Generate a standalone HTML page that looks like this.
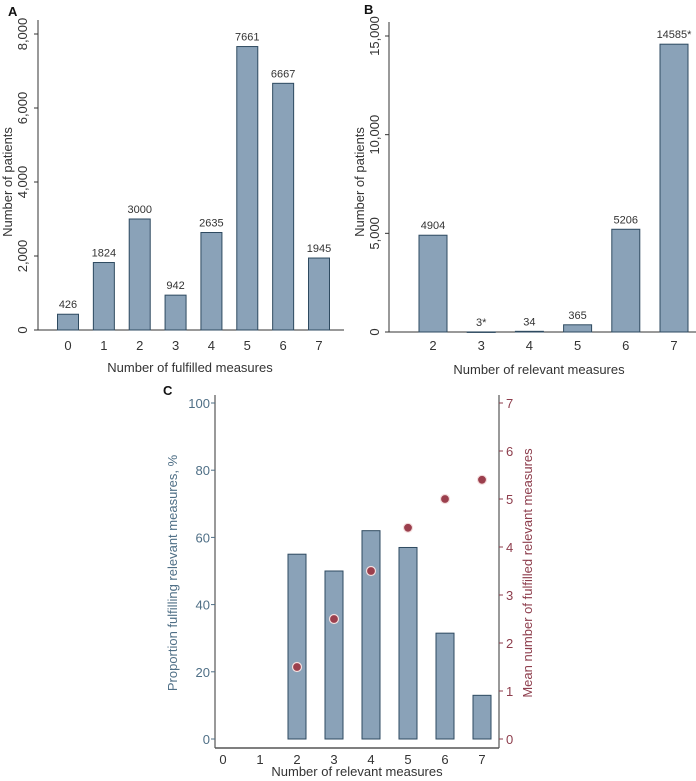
<!DOCTYPE html>
<html><head><meta charset="utf-8"><style>
body{margin:0;background:#fff;}
svg text{font-family:"Liberation Sans",sans-serif;}
</style></head><body>
<svg id="svg" width="696" height="776" viewBox="0 0 696 776" xmlns="http://www.w3.org/2000/svg"></svg>
<script>
const catsA=[0,1,2,3,4,5,6,7];
const valsA=[426,1824,3000,942,2635,7661,6667,1945];
const labelsA=["426","1824","3000","942","2635","7661","6667","1945"];
const ticksA=[0,2000,4000,6000,8000];
const catsB=[2,3,4,5,6,7];
const valsB=[4904,3,34,365,5206,14585];
const labelsB=["4904","3*","34","365","5206","14585*"];
const ticksB=[0,5000,10000,15000];
const catsC=[0,1,2,3,4,5,6,7];
const propC=[null,null,55,50,62,57,31.5,13];
const meanCats=[2,3,4,5,6,7];
const meanC=[1.5,2.5,3.5,4.4,5.0,5.4];
const ticksCL=[0,20,40,60,80,100];
const ticksCR=[0,1,2,3,4,5,6,7];

const svg=document.getElementById('svg');
const NS='http://www.w3.org/2000/svg';
function mk(tag,attrs,name,parent){const e=document.createElementNS(NS,tag);for(const k in attrs)e.setAttribute(k,attrs[k]);


(parent||svg).appendChild(e);return e;}
function txt(x,y,s,size,fill,name,anchor,rot){const t=mk('text',{x:x,y:y,'font-size':size,fill:fill,'text-anchor':anchor||'middle'},name);
if(rot)t.setAttribute('transform','rotate(-90 '+x+' '+y+')');t.textContent=s;return t;}
function fmt(v){return v.toLocaleString('en-US');}
const barFill='#8aa2b8',barStroke='#2e4a60',axC='#333',txtC='#333';

// Panel A
(function(){
 const x0=38,y0=330,ytop=34,max=8000;
 const ys=v=>y0-(v/max)*(y0-ytop);
 const xs=c=>68+c*(319-68)/7;
 txt(8,16,'A',13,'#111','panel-a-label','start').setAttribute('font-weight','bold');
 mk('line',{x1:x0,y1:20,x2:x0,y2:y0,stroke:axC,'stroke-width':1},'a-y-axis');
 mk('line',{x1:x0,y1:y0,x2:344,y2:y0,stroke:axC,'stroke-width':1},'a-x-axis');
 ticksA.forEach(t=>{mk('line',{x1:x0-4,y1:ys(t),x2:x0,y2:ys(t),stroke:axC},'a-y-tick');
  txt(27,ys(t),fmt(t),13,txtC,'a-y-tick-label','middle',true);});
 txt(12,182,'Number of patients',13,txtC,'a-y-axis-title','middle',true);
 catsA.forEach((c,i)=>{const x=xs(c),y=ys(valsA[i]);
  mk('rect',{x:x-10.5,y:y,width:21,height:y0-y,fill:barFill,stroke:barStroke,'stroke-width':1},'a-bar-'+c);
  txt(x,y-6,labelsA[i],11,txtC,'a-bar-value');
  txt(x,350,String(c),13,txtC,'a-x-tick-label');});
 txt(190,372,'Number of fulfilled measures',13,txtC,'a-x-axis-title');
})();

// Panel B
(function(){
 const x0=389,y0=332,ytop=36,max=15000;
 const ys=v=>y0-(v/max)*(y0-ytop);
 const xs=c=>433+(c-2)*(674-433)/5;
 txt(364,14,'B',13,'#111','panel-b-label','start').setAttribute('font-weight','bold');
 mk('line',{x1:x0,y1:22,x2:x0,y2:y0,stroke:axC},'b-y-axis');
 mk('line',{x1:x0,y1:y0,x2:696,y2:y0,stroke:axC},'b-x-axis');
 ticksB.forEach(t=>{mk('line',{x1:x0-4,y1:ys(t),x2:x0,y2:ys(t),stroke:axC},'b-y-tick');
  txt(379,ys(t),fmt(t),13,txtC,'b-y-tick-label','middle',true);});
 txt(364,182,'Number of patients',13,txtC,'b-y-axis-title','middle',true);
 catsB.forEach((c,i)=>{const x=xs(c),y=ys(valsB[i]);
  mk('rect',{x:x-14,y:y,width:28,height:Math.max(0.5,y0-y),fill:barFill,stroke:barStroke,'stroke-width':1},'b-bar-'+c);
  txt(x,y-6,labelsB[i],11,txtC,'b-bar-value');
  txt(x,350,String(c),13,txtC,'b-x-tick-label');});
 txt(539,374,'Number of relevant measures',13,txtC,'b-x-axis-title');
})();

// Panel C
(function(){
 const xl=215,xr=499,y0=739,ytop=403,yb=748;
 const ysL=v=>y0-(v/100)*(y0-ytop);
 const ysR=v=>y0-(v/7)*(y0-ytop);
 const xs=c=>223+c*(482-223)/7;
 const blue='#4f6f86',red='#8d3d4c';
 txt(163,395,'C',13,'#111','panel-c-label','start').setAttribute('font-weight','bold');
 mk('line',{x1:xl,y1:395,x2:xl,y2:yb,stroke:axC},'c-left-axis');
 mk('line',{x1:xr,y1:395,x2:xr,y2:yb,stroke:axC},'c-right-axis');
 mk('line',{x1:xl,y1:yb,x2:xr,y2:yb,stroke:'#555','stroke-width':1.5},'c-x-axis');
 ticksCL.forEach(t=>{mk('line',{x1:xl-4,y1:ysL(t),x2:xl,y2:ysL(t),stroke:blue},'c-left-tick');
  txt(210,ysL(t)+5,String(t),13,blue,'c-left-tick-label','end');});
 ticksCR.forEach(t=>{mk('line',{x1:xr,y1:ysR(t),x2:xr+4,y2:ysR(t),stroke:red},'c-right-tick');
  txt(506,ysR(t)+5,String(t),13,red,'c-right-tick-label','start');});
 txt(177,573,'Proportion fulfilling relevant measures, %',13,blue,'c-left-axis-title','middle',true);
 txt(532,573,'Mean number of fulfilled relevant measures',13,red,'c-right-axis-title','middle',true);
 catsC.forEach((c,i)=>{const x=xs(c);
  if(propC[i]!==null){const y=ysL(propC[i]);
   mk('rect',{x:x-9,y:y,width:18,height:y0-y,fill:barFill,stroke:barStroke,'stroke-width':1},'c-bar-'+c);}
  txt(x,764,String(c),13,txtC,'c-x-tick-label');});
 meanCats.forEach((c,i)=>{mk('circle',{cx:xs(c),cy:ysR(meanC[i]),r:4.5,fill:'#9b3f4d',stroke:'#f4dede','stroke-width':1.2},'c-mean-point-'+c);});
 txt(357,776,'Number of relevant measures',13,txtC,'c-x-axis-title');
})();
</script>
</body></html>
